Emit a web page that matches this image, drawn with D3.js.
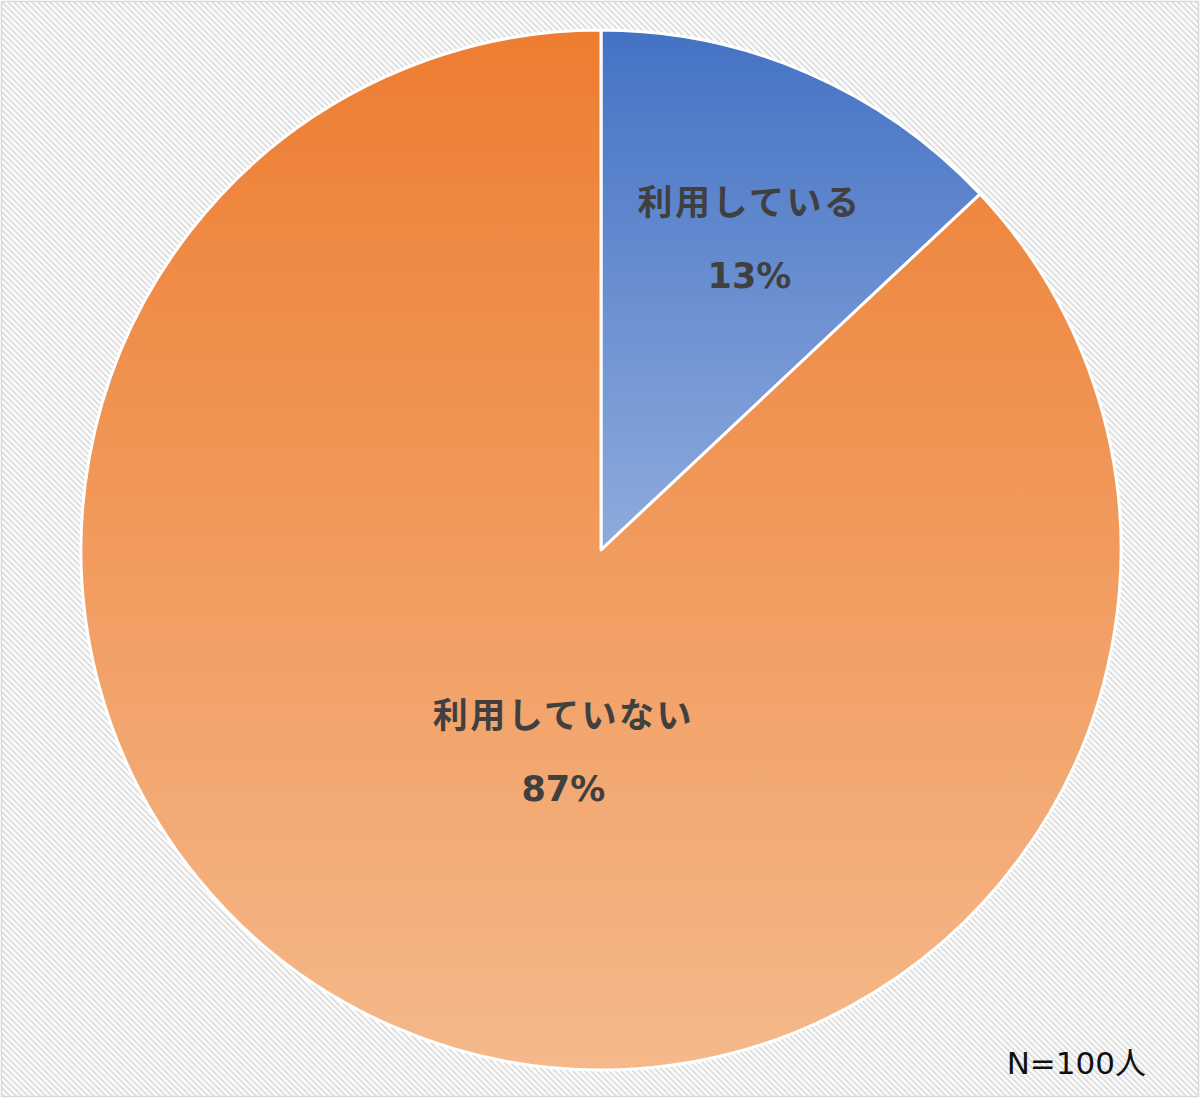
<!DOCTYPE html>
<html>
<head>
<meta charset="utf-8">
<script src="https://cdn.jsdelivr.net/npm/d3@7"></script>
<style>
  html, body { margin: 0; padding: 0; background: #fff; }
  svg { display: block; }
</style>
</head>
<body>
<div id="chart"></div>
<script>
// データ
const categories = ["利用している", "利用していない"];
const values = [13, 87];
const sampleNote = "N=100人";

const W = 1200, H = 1098;
const R = 520;
const cx = 601, cy = 550;

// 色: 上から下へのグラデーション
const gradTop = ["#4472C4", "#ED7D31"];
const gradBottom = ["#8FABDD", "#F5B98B"];
// ラベル配置 (中心角方向の半径比 + 補正)
const labelLayout = [
  { r: 0.68, dx: 8, dy: 14 },
  { r: 0.40, dx: 45, dy: 11 }
];

const svg = d3.select("#chart").append("svg")
  .attr("width", W).attr("height", H);

const defs = svg.append("defs");

// 背景の斜線パターン
const pat = defs.append("pattern")
  .attr("id", "hatch")
  .attr("patternUnits", "userSpaceOnUse")
  .attr("width", 6).attr("height", 6);
pat.append("rect").attr("width", 6).attr("height", 6).attr("fill", "#fff");
pat.append("path")
  .attr("d", "M-1,-1 L7,7 M-4,2 L1,7 M2,-4 L7,1")
  .attr("stroke", "#e0e0e0").attr("stroke-width", 2.2);

categories.forEach((c, i) => {
  const g = defs.append("linearGradient")
    .attr("id", `grad${i}`)
    .attr("x1", 0).attr("y1", 0).attr("x2", 0).attr("y2", 1);
  g.append("stop").attr("offset", "0%").attr("stop-color", gradTop[i]);
  g.append("stop").attr("offset", "100%").attr("stop-color", gradBottom[i]);
});

svg.append("rect")
  .attr("x", 1.5).attr("y", 1.5)
  .attr("width", W - 3).attr("height", H - 3)
  .attr("fill", "url(#hatch)")
  .attr("stroke", "#d9d9d9").attr("stroke-width", 1.5);

const pie = d3.pie().sort(null).value(d => d);
const arcs = pie(values);
const arc = d3.arc().innerRadius(0).outerRadius(R);

const g = svg.append("g").attr("transform", `translate(${cx},${cy})`);

g.selectAll("path.slice")
  .data(arcs)
  .join("path")
  .attr("class", "slice")
  .attr("d", arc)
  .attr("fill", (d, i) => `url(#grad${i})`)
  .attr("stroke", "#fff")
  .attr("stroke-width", 3)
  .attr("stroke-linejoin", "round");

// ラベル
const total = d3.sum(values);
arcs.forEach((d, i) => {
  const lr = labelLayout[i];
  const la = d3.arc().innerRadius(R * lr.r).outerRadius(R * lr.r);
  const [x, y] = la.centroid(d);
  const t = g.append("text")
    .attr("text-anchor", "middle")
    .attr("font-family", "'DejaVu Sans', 'Noto Sans CJK JP', sans-serif")
    .attr("font-weight", "bold")
    .attr("font-size", 35)
    .attr("fill", "#404040");
  t.append("tspan")
    .attr("x", x + lr.dx).attr("y", y + lr.dy - 24)
    .attr("letter-spacing", 2.5)
    .text(categories[i]);
  t.append("tspan")
    .attr("x", x + lr.dx).attr("y", y + lr.dy + 49)
    .text(Math.round(d.data / total * 100) + "%");
});

// 注記
svg.append("text")
  .attr("x", 1146).attr("y", 1074)
  .attr("text-anchor", "end")
  .attr("font-family", "'DejaVu Sans', 'Noto Sans CJK JP', sans-serif")
  .attr("font-size", 31)
  .attr("fill", "#111")
  .text(sampleNote);
</script>
</body>
</html>
